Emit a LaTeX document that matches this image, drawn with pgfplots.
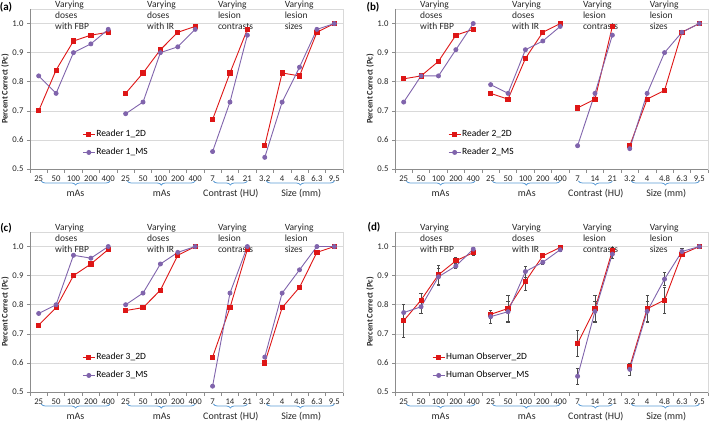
\documentclass[border=0pt]{standalone}
\usepackage{pgfplots}
\pgfplotsset{compat=1.18}
\usepackage{pgfplotstable}
\usepackage{fontspec}
\setmainfont{Carlito}
\usetikzlibrary{decorations.pathreplacing}

\definecolor{rred}{RGB}{222,22,22}
\definecolor{ppur}{RGB}{128,100,172}
\definecolor{gridc}{RGB}{217,217,217}
\definecolor{axc}{RGB}{140,140,140}
\definecolor{bluebr}{RGB}{91,155,213}

\pgfplotstableread{
x a2 aM b2 bM c2 cM d2 dM d2e dMe
0 0.70 0.82 0.81 0.73 0.73 0.77 0.745 0.773 0.057 0.030
1 0.84 0.76 0.82 0.82 0.79 0.80 0.816 0.793 0.025 0.022
2 0.94 0.90 0.87 0.82 0.90 0.97 0.903 0.896 0.033 0.030
3 0.96 0.93 0.96 0.91 0.94 0.96 0.951 0.933 0.012 0.008
4 0.97 0.98 0.98 1.00 0.99 1.00 0.979 0.991 0.010 0.006
4.5 nan nan nan nan nan nan nan nan nan nan
5 0.76 0.69 0.76 0.79 0.78 0.80 0.767 0.759 0.015 0.022
6 0.83 0.73 0.74 0.76 0.79 0.84 0.787 0.776 0.045 0.035
7 0.91 0.90 0.88 0.91 0.85 0.94 0.880 0.914 0.030 0.018
8 0.97 0.92 0.97 0.94 0.97 0.98 0.968 0.946 0.006 0.008
9 0.99 0.98 1.00 0.99 1.00 1.00 0.997 0.989 0.004 0.005
9.5 nan nan nan nan nan nan nan nan nan nan
10 0.67 0.56 0.71 0.58 0.62 0.52 0.667 0.554 0.045 0.028
11 0.83 0.73 0.74 0.76 0.79 0.84 0.786 0.777 0.045 0.035
12 0.98 0.96 0.99 0.96 0.99 1.00 0.986 0.974 0.010 0.015
12.5 nan nan nan nan nan nan nan nan nan nan
13 0.58 0.54 0.58 0.57 0.60 0.62 0.587 0.578 0.010 0.022
14 0.83 0.73 0.74 0.76 0.79 0.84 0.786 0.777 0.045 0.035
15 0.82 0.85 0.77 0.90 0.86 0.92 0.816 0.888 0.045 0.022
16 0.97 0.98 0.97 0.97 0.98 1.00 0.974 0.983 0.008 0.010
17 1.00 1.00 1.00 1.00 1.00 1.00 1.000 1.000 0.000 0.000
}\data

\pgfplotsset{
  panel/.style={
    width=313pt, height=160pt, scale only axis, anchor=south west,
    xmin=-0.5, xmax=17.5, ymin=0.5, ymax=1.05,
    ytick={0.5,0.6,0.7,0.8,0.9,1.0},
    yticklabel={\pgfmathprintnumber[fixed,fixed zerofill,precision=1]{\tick}},
    /pgf/number format/assume math mode=true,
    xtick={0,...,17},
    xticklabels={25,50,100,200,400,25,50,100,200,400,7,14,21,3.2,4,4.8,6.3,9.5},
    minor xtick={-0.5,0.5,...,17.5},
    tick pos=left, tick align=outside,
    major tick length=3pt, minor tick length=4pt,
    major x tick style={draw=none},
    minor x tick style={axc, line width=0.6pt},
    y tick style={axc, line width=0.6pt},
    ymajorgrids, grid style={gridc, line width=0.6pt},
    axis line style={gridc, line width=0.6pt},
    tick label style={font=\fontsize{8.7}{10}\selectfont, text=black!85},
    clip=false, unbounded coords=jump,
    legend style={draw=none, fill=none, inner sep=0pt, row sep=8pt,
      font=\fontsize{9.5}{11}\selectfont, nodes={inner sep=1pt, anchor=west}},
    legend cell align=left,
    legend image code/.code={\draw[mark repeat=2,mark phase=2] plot coordinates {(0pt,0pt) (6pt,0pt) (12pt,0pt)};},
  },
  s2d/.style={rred, line width=0.9pt, mark=square*, mark size=2.1pt, mark options={solid, fill=rred}},
  sms/.style={ppur, line width=0.9pt, mark=*, mark size=2pt, mark options={solid, fill=ppur}},
}

\tikzset{
  grptxt/.style={anchor=base west, inner sep=0pt, font=\fontsize{9.5}{11}\selectfont, text=black!85},
  bracest/.style={draw=bluebr, line width=0.8pt, decorate, decoration={brace, amplitude=4pt, mirror}},
  grplab/.style={anchor=base, inner sep=0pt, font=\fontsize{10}{12}\selectfont, text=black!85},
}

\newcommand{\vtxt}[4]{%
  \node[grptxt] at ([yshift=1.5pt]axis cs:#1,1.05) {#2};
  \node[grptxt] at ([yshift=-9.7pt]axis cs:#1,1.05) {#3};
  \node[grptxt] at ([yshift=-20.9pt]axis cs:#1,1.05) {#4};}
\newcommand{\bgrp}[4]{%
  \draw[bracest] ([yshift=-12pt]axis cs:#1,0.5) -- ([yshift=-12pt]axis cs:#2,0.5);
  \node[grplab] at ([yshift=-27.6pt]axis cs:#3,0.5) {#4};}
\newcommand{\decor}{%
  \draw[axc, line width=0.6pt] (rel axis cs:0,1) -- (rel axis cs:0,0) -- (rel axis cs:1,0);
  \vtxt{0.94}{Varying}{doses}{with FBP}
  \vtxt{6.23}{Varying}{doses}{with IR}
  \vtxt{10.3}{Varying}{lesion}{contrasts}
  \vtxt{14.14}{Varying}{lesion}{sizes}
  \bgrp{0.15}{4.1}{2.12}{mAs}
  \bgrp{5.1}{9.0}{7.08}{mAs}
  \bgrp{10.05}{12.0}{11.05}{Contrast (HU)}
  \bgrp{13.1}{17.0}{15.1}{Size (mm)}}

\begin{document}
\begin{tikzpicture}
\useasboundingbox (0pt,0pt) rectangle (709pt,422pt);

% (a)
\begin{axis}[panel, at={(30pt,253pt)}, legend style={at={(axis cs:2.5,0.588)}, anchor=west}]
\addplot[s2d] table[x=x,y=a2] {\data};
\addplot[sms] table[x=x,y=aM] {\data};
\legend{Reader 1\_2D, Reader 1\_MS}
\decor
\end{axis}

% (b)
\begin{axis}[panel, at={(395pt,253pt)}, legend style={at={(axis cs:2.55,0.588)}, anchor=west}]
\addplot[s2d] table[x=x,y=b2] {\data};
\addplot[sms] table[x=x,y=bM] {\data};
\legend{Reader 2\_2D, Reader 2\_MS}
\decor
\end{axis}

% (c)
\begin{axis}[panel, at={(30pt,30pt)}, legend style={at={(axis cs:2.5,0.588)}, anchor=west}]
\addplot[s2d] table[x=x,y=c2] {\data};
\addplot[sms] table[x=x,y=cM] {\data};
\legend{Reader 3\_2D, Reader 3\_MS}
\decor
\end{axis}

% (d)
\begin{axis}[panel, at={(395pt,30pt)}, legend style={at={(axis cs:1.63,0.588)}, anchor=west},
  error bars/error bar style={black!70, line width=0.5pt},
  error bars/error mark options={rotate=90, black!70, mark size=1.6pt, line width=0.5pt}]
\addplot[s2d, error bars/.cd, y dir=both, y explicit] table[x=x,y=d2,y error=d2e] {\data};
\addplot[sms, error bars/.cd, y dir=both, y explicit] table[x=x,y=dM,y error=dMe] {\data};
\legend{Human Observer\_2D, Human Observer\_MS}
\decor
\end{axis}

% y labels and panel labels
\foreach \px/\py in {5/333, 370/333, 5/110, 370/110}{
  \node[rotate=90, font=\bfseries\fontsize{8.5}{9}\selectfont, text=black!85] at (\px pt,\py pt) {Percent Correct (Pc)};
}
\node[font=\bfseries\fontsize{11}{13}\selectfont] at (6pt,415pt) {(a)};
\node[font=\bfseries\fontsize{11}{13}\selectfont] at (373pt,415pt) {(b)};
\node[font=\bfseries\fontsize{11}{13}\selectfont] at (6pt,194pt) {(c)};
\node[font=\bfseries\fontsize{11}{13}\selectfont] at (374pt,195pt) {(d)};
\end{tikzpicture}
\end{document}
